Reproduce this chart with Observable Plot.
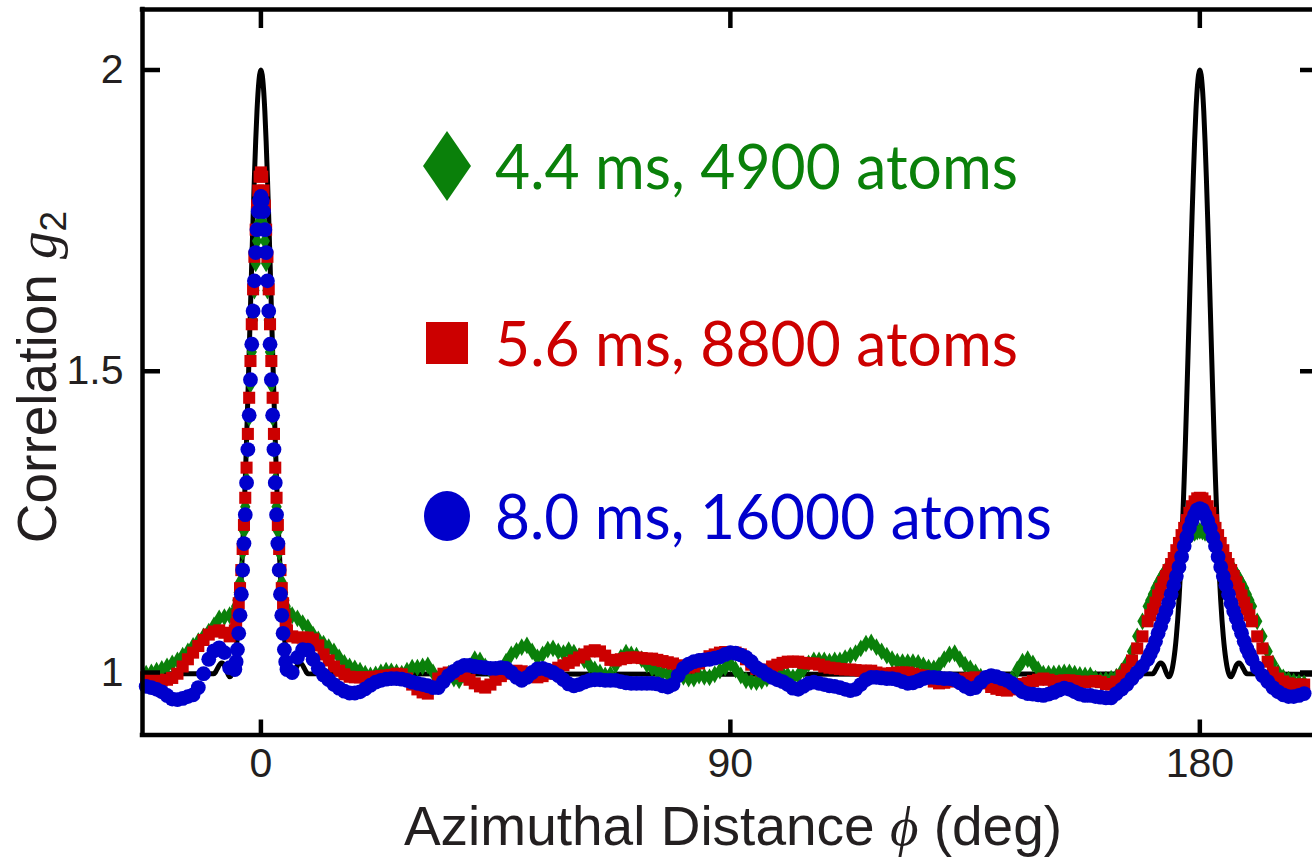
<!DOCTYPE html>
<html>
<head>
<meta charset="utf-8">
<script src="https://cdn.jsdelivr.net/npm/d3@7"></script>
<script src="https://cdn.jsdelivr.net/npm/@observablehq/plot@0.6"></script>
<style>
  html, body { margin: 0; padding: 0; background: #fff; }
  #chart svg { display: block; }
</style>
</head>
<body>
<div id="chart"></div>
<script>
// Azimuthal sampling grid (deg): 1 deg on the wings, finer across the two peaks
const phiWingL   = d3.range(-22, -5, 1);        // -22 … -6
const phiPeak0   = d3.range(-5, 5.001, 0.25);   // -5 … 5
const phiMid     = d3.range(6, 170, 1);         // 6 … 169
const phiPeak180 = d3.range(170, 190.001, 0.5); // 170 … 190
const phiWingR   = d3.range(191, 201, 1);       // 191 … 200

// 4.4 ms, 4900 atoms
const greenWingL = [0.998, 1.0, 1.003, 1.006, 1.01, 1.015, 1.02, 1.028, 1.035, 1.044, 1.052, 1.06, 1.068, 1.078, 1.09, 1.092, 1.095];
const greenPeak0 = [1.103, 1.11, 1.12, 1.133, 1.15, 1.172, 1.2, 1.235, 1.275, 1.32, 1.37, 1.423, 1.478, 1.532, 1.585, 1.634, 1.679, 1.716, 1.745, 1.763,
  1.77,
  1.763, 1.745, 1.716, 1.679, 1.634, 1.585, 1.532, 1.478, 1.423, 1.37, 1.32, 1.275, 1.235, 1.2, 1.172, 1.15, 1.133, 1.12, 1.11, 1.103];
const greenMid = [
  1.095, 1.09, 1.082, 1.075, 1.063, 1.055, 1.048, 1.042, 1.035, 1.025,
  1.016, 1.01, 1.007, 1.003, 0.998, 0.995, 0.997, 1.0, 1.003, 1.002,
  1.0, 0.998, 1.003, 1.008, 1.008, 1.01, 1.012, 1.0, 0.99, 0.993,
  0.998, 0.99, 0.987, 0.995, 1.01, 1.022, 1.02, 1.01, 1.003, 0.998,
  1.0, 1.018, 1.03, 1.036, 1.042, 1.045, 1.035, 1.025, 1.03, 1.038,
  1.04, 1.035, 1.032, 1.037, 1.033, 1.027, 1.02, 1.012, 1.005, 1.0,
  0.995, 0.997, 1.012, 1.025, 1.033, 1.03, 1.028, 1.022, 1.013, 1.007,
  1.003, 1.0, 0.998, 0.998, 0.996, 0.993, 0.99, 0.99, 0.995, 0.993,
  0.992, 0.997, 1.003, 1.008, 1.015, 1.005, 0.995, 0.987, 0.985, 0.984,
  0.986, 0.99, 0.995, 0.997, 0.998, 0.995, 0.992, 0.995, 1.005, 1.015,
  1.02, 1.02, 1.02, 1.018, 1.02, 1.02, 1.024, 1.028, 1.032, 1.04,
  1.048, 1.05, 1.042, 1.035, 1.028, 1.022, 1.018, 1.017, 1.017, 1.017,
  1.016, 1.012, 1.008, 1.007, 1.012, 1.022, 1.03, 1.032, 1.022, 1.013,
  1.007, 1.0, 0.993, 0.988, 0.987, 0.985, 0.983, 0.982, 0.99, 1.005,
  1.018, 1.022, 1.015, 1.005, 0.998, 0.998, 0.998, 0.999, 1.0, 1.0,
  0.998, 0.996, 0.995, 0.995, 0.99, 0.987, 0.988, 0.99, 0.993, 1.002,
  1.015, 1.035, 1.06, 1.085];
const greenPeak180 = [1.11, 1.12, 1.13, 1.14, 1.148, 1.156, 1.163, 1.17, 1.175, 1.182, 1.19, 1.195, 1.2, 1.207, 1.215, 1.22, 1.225, 1.23, 1.232, 1.234,
  1.235,
  1.234, 1.232, 1.23, 1.225, 1.22, 1.215, 1.207, 1.2, 1.195, 1.19, 1.182, 1.175, 1.17, 1.163, 1.156, 1.148, 1.14, 1.13, 1.12, 1.11];
const greenWingR = [1.085, 1.06, 1.035, 1.015, 1.0, 0.992, 0.988, 0.985, 0.983, 0.982];

// 5.6 ms, 8800 atoms
const redWingL = [0.992, 0.99, 0.988, 0.987, 0.988, 0.991, 0.998, 1.01, 1.022, 1.033, 1.044, 1.054, 1.063, 1.068, 1.07, 1.066, 1.06];
const redPeak0 = [1.07, 1.08, 1.095, 1.115, 1.14, 1.17, 1.205, 1.245, 1.29, 1.34, 1.396, 1.456, 1.517, 1.578, 1.636, 1.69, 1.735, 1.775, 1.8, 1.823,
  1.83,
  1.823, 1.8, 1.775, 1.735, 1.69, 1.636, 1.578, 1.517, 1.456, 1.396, 1.34, 1.29, 1.245, 1.205, 1.17, 1.14, 1.115, 1.095, 1.08, 1.07];
const redMid = [
  1.06, 1.058, 1.058, 1.058, 1.055, 1.045, 1.03, 1.02, 1.01, 1.003,
  0.997, 0.993, 0.992, 0.992, 0.992, 0.992, 0.993, 0.994, 0.995, 0.996,
  0.998, 0.997, 0.99, 0.98, 0.972, 0.967, 0.965, 0.975, 0.99, 0.998,
  1.0, 0.999, 0.998, 0.994, 0.988, 0.982, 0.977, 0.975, 0.98, 0.988,
  0.994, 0.998, 1.0, 1.003, 1.002, 0.998, 0.994, 0.992, 0.994, 0.998,
  1.004, 1.008, 1.012, 1.016, 1.02, 1.025, 1.03, 1.035, 1.037, 1.035,
  1.028, 1.021, 1.02, 1.022, 1.024, 1.025, 1.025, 1.024, 1.023, 1.023,
  1.021, 1.019, 1.017, 1.015, 1.012, 1.009, 1.008, 1.01, 1.015, 1.022,
  1.027, 1.03, 1.033, 1.034, 1.033, 1.033, 1.03, 1.022, 1.013, 1.006,
  1.003, 1.005, 1.01, 1.013, 1.016, 1.018, 1.018, 1.018, 1.016, 1.015,
  1.015, 1.013, 1.01, 1.008, 1.007, 1.006, 1.005, 1.005, 1.004, 1.003,
  1.003, 1.003, 1.0, 0.998, 0.998, 0.999, 1.0, 1.0, 1.0, 0.998,
  0.996, 0.995, 0.99, 0.985, 0.982, 0.983, 0.985, 0.987, 0.988, 0.99,
  0.991, 0.992, 0.99, 0.982, 0.976, 0.973, 0.971, 0.97, 0.972, 0.977,
  0.981, 0.983, 0.986, 0.988, 0.99, 0.988, 0.985, 0.986, 0.987, 0.987,
  0.986, 0.985, 0.984, 0.985, 0.986, 0.984, 0.981, 0.98, 0.985, 0.995,
  1.005, 1.02, 1.04, 1.06];
const redPeak180 = [1.085, 1.095, 1.105, 1.116, 1.128, 1.139, 1.15, 1.16, 1.17, 1.18, 1.19, 1.203, 1.215, 1.228, 1.24, 1.253, 1.265, 1.276, 1.284, 1.289,
  1.29,
  1.289, 1.284, 1.276, 1.265, 1.253, 1.24, 1.228, 1.215, 1.203, 1.19, 1.18, 1.17, 1.16, 1.15, 1.139, 1.128, 1.116, 1.105, 1.095, 1.085];
const redWingR = [1.06, 1.04, 1.018, 1.0, 0.99, 0.985, 0.982, 0.98, 0.98, 0.98];

// 8.0 ms, 16000 atoms
const blueWingL = [0.977, 0.975, 0.972, 0.968, 0.962, 0.956, 0.955, 0.957, 0.96, 0.963, 0.975, 0.998, 1.022, 1.036, 1.041, 1.033, 1.008];
const bluePeak0 = [1.005, 1.018, 1.038, 1.065, 1.095, 1.13, 1.17, 1.214, 1.262, 1.315, 1.37, 1.427, 1.486, 1.545, 1.6, 1.65, 1.697, 1.735, 1.765, 1.783,
  1.79,
  1.783, 1.765, 1.735, 1.697, 1.65, 1.6, 1.545, 1.486, 1.427, 1.37, 1.315, 1.262, 1.214, 1.17, 1.13, 1.095, 1.065, 1.038, 1.018, 1.005];
const blueMid = [
  1.0, 1.025, 1.038, 1.037, 1.022, 1.007, 0.996, 0.988, 0.98, 0.974,
  0.969, 0.966, 0.966, 0.968, 0.973, 0.979, 0.984, 0.987, 0.989, 0.99,
  0.99, 0.989, 0.987, 0.984, 0.982, 0.98, 0.978, 0.975, 0.975, 0.985,
  0.995, 1.002, 1.008, 1.012, 1.012, 1.01, 1.009, 1.008, 1.007, 1.007,
  1.008, 1.007, 1.0, 0.992, 0.987, 0.992, 1.0, 1.006, 1.007, 1.004,
  1.0, 0.995, 0.988, 0.981, 0.978, 0.98, 0.984, 0.987, 0.988, 0.988,
  0.987, 0.987, 0.987, 0.985, 0.983, 0.982, 0.982, 0.982, 0.982, 0.982,
  0.981, 0.978, 0.976, 0.98, 0.995, 1.007, 1.014, 1.018, 1.02, 1.021,
  1.022, 1.024, 1.026, 1.03, 1.033, 1.032, 1.029, 1.025, 1.018, 1.008,
  1.003, 0.997, 0.992, 0.988, 0.985, 0.98, 0.974, 0.972, 0.977, 0.982,
  0.984, 0.982, 0.98, 0.978, 0.977, 0.975, 0.972, 0.97, 0.972, 0.98,
  0.988, 0.992, 0.992, 0.991, 0.99, 0.99, 0.988, 0.985, 0.982, 0.983,
  0.986, 0.99, 0.992, 0.992, 0.991, 0.99, 0.99, 0.988, 0.983, 0.977,
  0.973, 0.975, 0.984, 0.992, 0.995, 0.993, 0.99, 0.987, 0.982, 0.975,
  0.968, 0.965, 0.964, 0.963, 0.962, 0.964, 0.967, 0.971, 0.974, 0.972,
  0.968, 0.964, 0.962, 0.962, 0.96, 0.959, 0.958, 0.958, 0.965, 0.972,
  0.98, 0.99, 1.0, 1.01];
const bluePeak180 = [1.022, 1.031, 1.04, 1.052, 1.065, 1.077, 1.09, 1.102, 1.115, 1.13, 1.145, 1.16, 1.175, 1.192, 1.21, 1.225, 1.24, 1.252, 1.262, 1.27,
  1.272,
  1.27, 1.262, 1.252, 1.24, 1.225, 1.21, 1.192, 1.175, 1.16, 1.145, 1.13, 1.115, 1.102, 1.09, 1.077, 1.065, 1.052, 1.04, 1.031, 1.022];
const blueWingR = [1.008, 0.995, 0.985, 0.975, 0.968, 0.963, 0.96, 0.96, 0.962, 0.965];

// Theory curve: profile around each correlation peak, plus flat baseline
const theoryOffset = d3.range(-9, 9.001, 0.25);
const theoryShape = [
  0.998, 1.0, 1.004, 1.008, 1.012, 1.015, 1.016, 1.015, 1.012, 1.007, 1.001, 0.996, 0.993, 0.994, 0.999, 1.008,
  1.021, 1.038, 1.06, 1.087, 1.12, 1.16, 1.207, 1.26, 1.32, 1.386, 1.457, 1.531, 1.606, 1.682, 1.755, 1.822,
  1.882, 1.932, 1.969, 1.992,
  2.0,
  1.992, 1.969, 1.932, 1.882, 1.822, 1.755, 1.682, 1.606, 1.531, 1.457, 1.386, 1.32, 1.26, 1.207, 1.16, 1.12,
  1.087, 1.06, 1.038, 1.021, 1.008, 0.999, 0.994, 0.993, 0.996, 1.001, 1.007, 1.012, 1.015, 1.016, 1.015,
  1.012, 1.008, 1.004, 1.0, 0.998];
const theoryPeakCenters = [0, 180];
const theoryBasePhi = [-24, 90, 203];
const theoryBaseG = [0.998, 0.997, 0.997];

const xTicks = [0, 90, 180];
const yTicks = [1, 1.5, 2];

const legendItems = [
  {label: "4.4 ms, 4900 atoms", color: "#0a800a", shape: "diamond"},
  {label: "5.6 ms, 8800 atoms", color: "#cc0000", shape: "square"},
  {label: "8.0 ms, 16000 atoms", color: "#0000cc", shape: "circle"}
];

// Assemble tidy tables
const grids = [phiWingL, phiPeak0, phiMid, phiPeak180, phiWingR];
function series(parts) {
  return grids.flatMap((grid, i) => grid.map((phi, j) => ({phi, g: parts[i][j]})))
    .filter(d => d.g != null);
}
const green = series([greenWingL, greenPeak0, greenMid, greenPeak180, greenWingR]);
const red   = series([redWingL, redPeak0, redMid, redPeak180, redWingR]);
const blue  = series([blueWingL, bluePeak0, blueMid, bluePeak180, blueWingR]);

const theory = [
  ...theoryBasePhi.map((phi, i) => ({phi, g: theoryBaseG[i]})),
  ...theoryPeakCenters.flatMap(c => theoryOffset.map((d, i) => ({phi: c + d, g: theoryShape[i]})))
].sort((a, b) => a.phi - b.phi);

const xDomain = [-22.7, 201.6];
const yDomain = [0.8963, 2.1004];
const lw = 4.5;
const tickFont = "Liberation Sans, Arial, Helvetica, sans-serif";

const svg = Plot.plot({
  width: 1312,
  height: 863,
  marginLeft: 142,
  marginRight: 0,
  marginTop: 9,
  marginBottom: 128.5,
  style: {background: "#fff", fontFamily: tickFont, overflow: "visible"},
  x: {domain: xDomain, axis: null},
  y: {domain: yDomain, axis: null},
  marks: [
    Plot.line(theory, {x: "phi", y: "g", stroke: "#000", strokeWidth: 5, curve: "monotone-x", clip: true}),
    Plot.dot(green, {x: "phi", y: "g", symbol: "diamond", r: 5.4, fill: legendItems[0].color, stroke: "none"}),
    Plot.dot(red,   {x: "phi", y: "g", symbol: "square",  r: 6.8, fill: legendItems[1].color, stroke: "none"}),
    Plot.dot(blue,  {x: "phi", y: "g", symbol: "circle",  r: 7.4, fill: legendItems[2].color, stroke: "none"}),

    // frame (right side lies just beyond the visible area)
    Plot.ruleY([yDomain[1], yDomain[0]], {stroke: "#000", strokeWidth: lw, strokeLinecap: "square"}),
    Plot.ruleX([xDomain[0]], {stroke: "#000", strokeWidth: lw, strokeLinecap: "square"}),

    // inward ticks on all sides
    Plot.axisX({ticks: xTicks, anchor: "bottom", tickSize: 15, dy: -15, fill: "none", stroke: "#000", strokeWidth: lw, label: null}),
    Plot.axisX({ticks: xTicks, anchor: "top", tickSize: 18, dy: 18, fill: "none", stroke: "#000", strokeWidth: lw, label: null}),
    Plot.axisY({ticks: yTicks, anchor: "left", tickSize: 18, dx: 18, fill: "none", stroke: "#000", strokeWidth: lw, label: null}),
    Plot.axisY({ticks: yTicks, anchor: "right", tickSize: 13, dx: -13, fill: "none", stroke: "#000", strokeWidth: lw, label: null}),

    // tick labels
    Plot.axisX({ticks: xTicks, anchor: "bottom", tickSize: 0, tickPadding: 13, fontSize: 41, fontFamily: tickFont, fill: "#231f20", label: null, tickFormat: d => String(d)}),
    Plot.axisY({ticks: yTicks, anchor: "left", tickSize: 0, tickPadding: 19, fontSize: 41, fontFamily: tickFont, fill: "#231f20", label: null, tickFormat: d => String(d)})
  ]
});

document.getElementById("chart").appendChild(svg);

const root = d3.select(svg);
const mathFont = "Liberation Serif, DejaVu Serif, serif";

// x-axis title
const xt = root.append("text")
  .attr("x", 733).attr("y", 845)
  .attr("text-anchor", "middle")
  .attr("font-family", tickFont).attr("font-size", 55).attr("fill", "#231f20");
xt.append("tspan").text("Azimuthal Distance ");
xt.append("tspan").attr("font-family", mathFont).attr("font-style", "italic").text("\u03d5");
xt.append("tspan").text(" (deg)");

// y-axis title
const yt = root.append("text")
  .attr("transform", "translate(56,377) rotate(-90)")
  .attr("text-anchor", "middle")
  .attr("font-family", tickFont).attr("font-size", 55).attr("fill", "#231f20");
yt.append("tspan").text("Correlation ");
yt.append("tspan").attr("font-family", mathFont).attr("font-style", "italic").text("g");
yt.append("tspan").attr("font-size", 37).attr("dy", 10).text("2");

// legend
const legendRows = [
  {cx: 447, cy: 166, base: 189, width: 523},
  {cx: 447, cy: 343, base: 366, width: 523},
  {cx: 447, cy: 516, base: 539, width: 557}
];
const lg = root.append("g").attr("class", "legend").attr("text-anchor", "start");
legendItems.forEach((item, i) => {
  const row = legendRows[i];
  if (item.shape === "diamond") {
    lg.append("path")
      .attr("d", `M${row.cx},${row.cy - 35}L${row.cx + 24},${row.cy}L${row.cx},${row.cy + 35}L${row.cx - 24},${row.cy}Z`)
      .attr("fill", item.color);
  } else if (item.shape === "square") {
    lg.append("rect").attr("x", row.cx - 21).attr("y", row.cy - 21).attr("width", 42).attr("height", 42).attr("fill", item.color);
  } else {
    lg.append("ellipse").attr("cx", row.cx).attr("cy", row.cy).attr("rx", 23).attr("ry", 25).attr("fill", item.color);
  }
  lg.append("text")
    .attr("x", 495).attr("y", row.base)
    .attr("text-anchor", "start")
    .attr("font-family", "Lato, 'Open Sans', sans-serif").attr("font-size", 62)
    .attr("fill", item.color)
    .attr("textLength", row.width).attr("lengthAdjust", "spacingAndGlyphs")
    .text(item.label);
});
</script>
</body>
</html>
